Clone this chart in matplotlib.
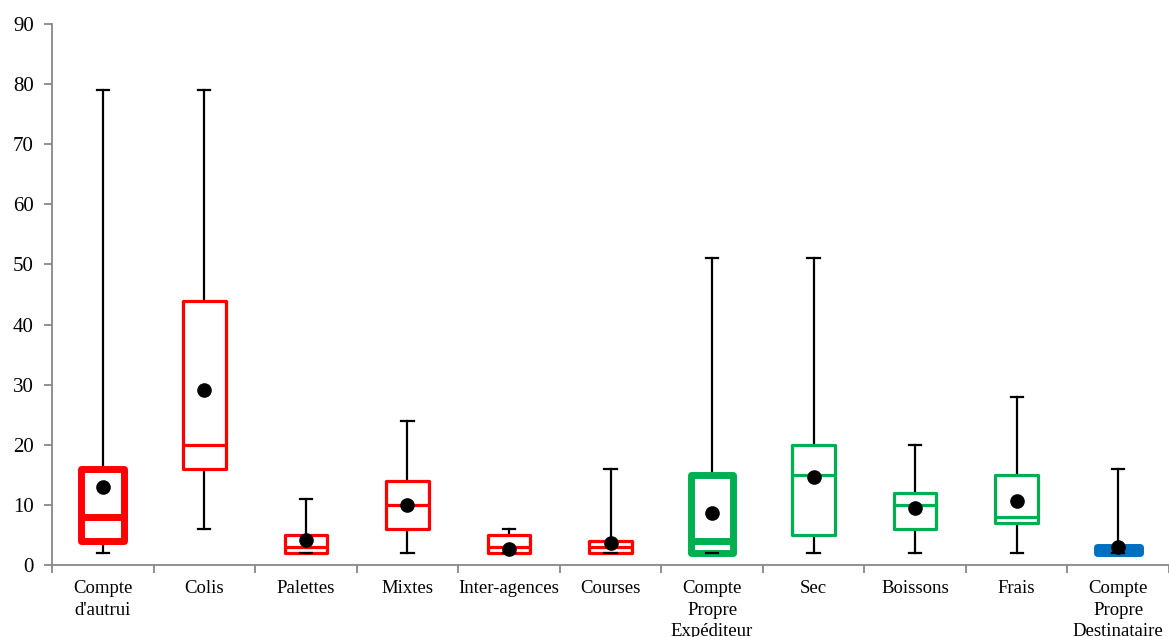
import matplotlib.pyplot as plt
import numpy as np

plt.rcParams['font.family'] = ['Liberation Serif', 'DejaVu Serif']

# values
labels = ["Compte\nd'autrui", "Colis", "Palettes", "Mixtes", "Inter-agences", "Courses",
          "Compte\nPropre\nExpéditeur", "Sec", "Boissons", "Frais", "Compte\nPropre\nDestinataire"]
whis_lo = [2, 6, 2, 2, 2, 2, 2, 2, 2, 2, 2]
q1 = [4, 16, 2, 6, 2, 2, 2, 5, 6, 7, 2]
med = [8, 20, 3, 10, 3, 3, 4, 15, 10, 8, 2.5]
q3 = [16, 44, 5, 14, 5, 4, 15, 20, 12, 15, 3]
whis_hi = [79, 79, 11, 24, 6, 16, 51, 51, 20, 28, 16]
means = [13, 29.1, 4.2, 10, 2.7, 3.6, 8.6, 14.7, 9.5, 10.6, 3]

red, green, blue = '#FF0000', '#00B050', '#0070C0'
colors = [red] * 6 + [green] * 4 + [blue]
thick = [True, False, False, False, False, False, True, False, False, False, True]
filled = [False] * 10 + [True]

W, H = 1169, 637
fig = plt.figure(figsize=(W / 100, H / 100), dpi=100)
ax = fig.add_axes([52 / W, 72 / H, 1 - 52 / W, (565 - 24) / H])

for i in range(len(labels)):
    st = dict(whislo=whis_lo[i], q1=q1[i], med=med[i], q3=q3[i], whishi=whis_hi[i],
              mean=means[i], fliers=[])
    lw = 5.0 if thick[i] else 2.3
    ax.bxp([st], positions=[i], widths=0.42, showmeans=True, patch_artist=True,
           boxprops=dict(facecolor=colors[i] if filled[i] else 'white', edgecolor=colors[i],
                         linewidth=lw, joinstyle='round', zorder=2),
           medianprops=dict(color=colors[i], linewidth=lw, zorder=2.1),
           whiskerprops=dict(color='black', linewidth=1.6, zorder=1),
           capprops=dict(color='black', linewidth=1.6, zorder=3),
           meanprops=dict(marker='o', markerfacecolor='black', markeredgecolor='black',
                          markersize=9.5, zorder=4),
           capwidths=0.12, manage_ticks=False)

ax.set_xlim(-0.5, -0.5 + (W - 52) / 102.1)
ax.set_ylim(0, 90)
ax.set_yticks(np.arange(0, 91, 10))
ax.set_xticks(range(len(labels)))
ax.set_xticklabels(labels, fontsize=13.5, linespacing=1.35)
ax.set_xticks(np.arange(-0.5, len(labels), 1), minor=True)
ax.tick_params(axis='x', which='major', length=0, pad=11)
ax.tick_params(axis='x', which='minor', length=6, color='#888888', width=1.3)
ax.tick_params(axis='y', labelsize=15, length=6, color='#888888', width=1.3, pad=7)
for s in ['top', 'right']:
    ax.spines[s].set_visible(False)
for s in ['left', 'bottom']:
    ax.spines[s].set_color('#888888')
    ax.spines[s].set_linewidth(1.3)

fig.savefig('out.png', dpi=100)
